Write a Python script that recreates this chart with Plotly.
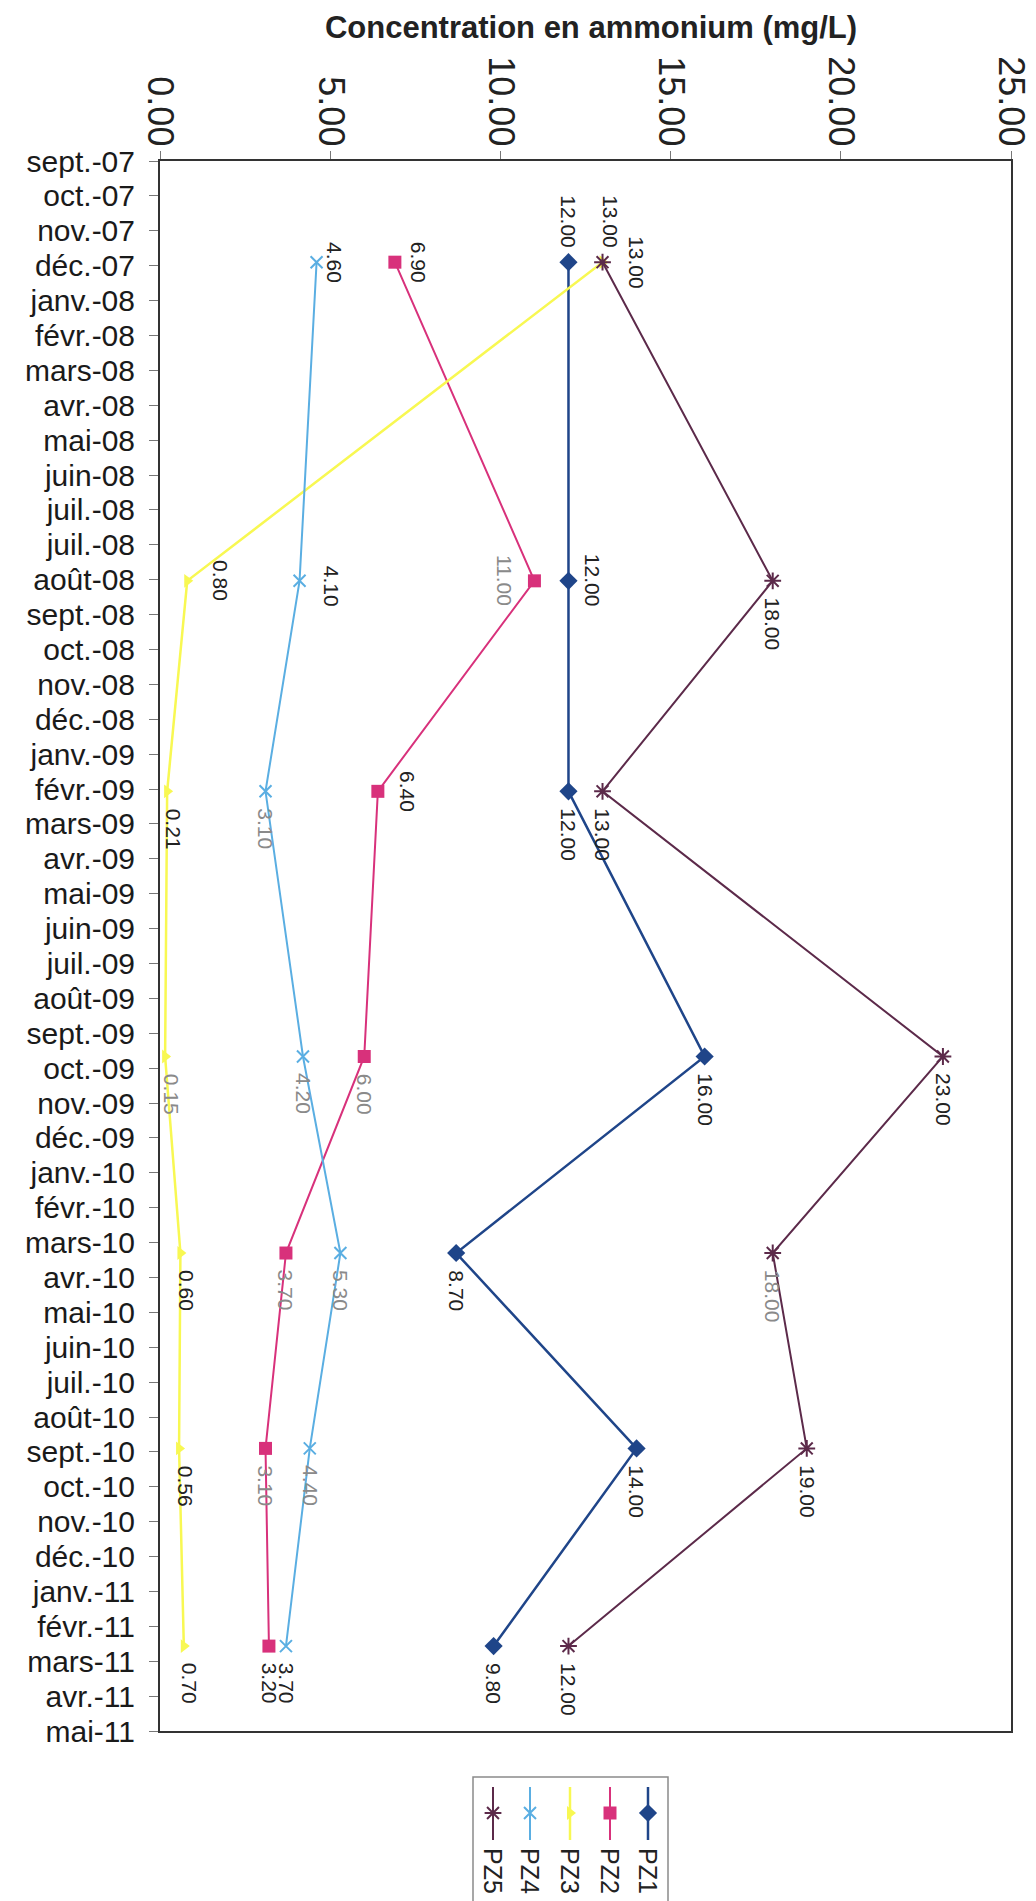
import pandas as pd
import plotly.graph_objects as go

# Ammonium concentration (mg/L) measured in piezometers PZ1 to PZ5
sample_dates = ["2007-12-01", "2008-08-31", "2009-02-28", "2009-10-14",
                "2010-04-01", "2010-09-16", "2011-03-05"]
pz1 = [12.00, 12.00, 12.00, 16.00, 8.70, 14.00, 9.80]
pz2 = [6.90, 11.00, 6.40, 6.00, 3.70, 3.10, 3.20]
pz3 = [13.00, 0.80, 0.21, 0.15, 0.60, 0.56, 0.70]
pz4 = [4.60, 4.10, 3.10, 4.20, 5.30, 4.40, 3.70]
pz5 = [13.00, 18.00, 13.00, 23.00, 18.00, 19.00, 12.00]
series_names = ["PZ1", "PZ2", "PZ3", "PZ4", "PZ5"]

# Time axis: one labelled tick every 30 days
axis_start = "2007-09-05"
axis_step_days = 30
month_labels = [
    "sept.-07", "oct.-07", "nov.-07", "déc.-07", "janv.-08", "févr.-08",
    "mars-08", "avr.-08", "mai-08", "juin-08", "juil.-08", "juil.-08",
    "août-08", "sept.-08", "oct.-08", "nov.-08", "déc.-08", "janv.-09",
    "févr.-09", "mars-09", "avr.-09", "mai-09", "juin-09", "juil.-09",
    "août-09", "sept.-09", "oct.-09", "nov.-09", "déc.-09", "janv.-10",
    "févr.-10", "mars-10", "avr.-10", "mai-10", "juin-10", "juil.-10",
    "août-10", "sept.-10", "oct.-10", "nov.-10", "déc.-10", "janv.-11",
    "févr.-11", "mars-11", "avr.-11", "mai-11",
]
value_ticks = [0, 5, 10, 15, 20, 25]

series_values = dict(zip(series_names, [pz1, pz2, pz3, pz4, pz5]))

FONT = "Liberation Sans, Arial, sans-serif"
W, H = 1036, 1901

styles = {
    "PZ1": dict(color="#1f4589", symbol="diamond", size=14, width=2.5, open=False),
    "PZ2": dict(color="#d8317b", symbol="square", size=13, width=2, open=False),
    "PZ3": dict(color="#f8f852", symbol="triangle-right", size=12, width=2.5, open=False),
    "PZ4": dict(color="#5aaee2", symbol="x-thin-open", size=12, width=2, open=True),
    "PZ5": dict(color="#5c2a4a", symbol="asterisk-open", size=14, width=2, open=True),
}

# value-label placement per point: (side, x shift px, y shift px)
B = ("b", 0, -15)
B3 = ("b", 6, -15)
label_place = {
    "PZ1": [("a", 0, 12), ("r", 10, 0), B, B, B, B, B],
    "PZ2": [("r", 10, 0), ("l", -17, 0), ("r", 16, 0), B, B, B, B],
    "PZ3": [("a", 8, 12), ("r", 19, 0), B3, B3, B3, B3, B3],
    "PZ4": [("r", 5, 0), ("r", 18, -5), B, B, B, B, B],
    "PZ5": [("r", 21, 0), B, B, B, B, B, B],
}
label_faded = {
    "PZ1": [], "PZ2": [1, 3, 4, 5], "PZ3": [3], "PZ4": [2, 3, 4, 5], "PZ5": [4],
}

tick_dates = pd.date_range(axis_start, periods=len(month_labels),
                           freq=f"{axis_step_days}D")

fig = go.Figure()

for name in series_names:
    st = styles[name]
    marker = dict(symbol=st["symbol"], size=st["size"], color=st["color"],
                  line=dict(color=st["color"], width=2 if st["open"] else 0))
    fig.add_trace(go.Scatter(
        x=series_values[name], y=sample_dates, mode="lines+markers",
        name=name, showlegend=False,
        line=dict(color=st["color"], width=st["width"]),
        marker=marker, xaxis="x", yaxis="y", hoverinfo="skip",
    ))

annotations = []
anchors = {"b": ("center", "top"), "a": ("center", "bottom"),
           "r": ("left", "middle"), "l": ("right", "middle")}
for name in series_names:
    for i, (v, d) in enumerate(zip(series_values[name], sample_dates)):
        side, dx, dy = label_place[name][i]
        xa, ya = anchors[side]
        annotations.append(dict(
            x=v, y=d, xref="x", yref="y", text=f"{v:.2f}", showarrow=False,
            textangle=90, xanchor=xa, yanchor=ya, xshift=dx, yshift=dy,
            font=dict(family=FONT, size=21,
                      color="#8a8a8a" if i in label_faded[name] else "#222222"),
        ))

# Legend drawn as a rotated key in the bottom margin
legend_x = {"PZ5": 493, "PZ4": 530, "PZ3": 570, "PZ2": 610, "PZ1": 648}
for name in series_names:
    st = styles[name]
    lx = legend_x[name]
    fig.add_trace(go.Scatter(
        x=[lx, lx], y=[1787, 1840], mode="lines", showlegend=False,
        line=dict(color=st["color"], width=st["width"]),
        xaxis="x2", yaxis="y2", hoverinfo="skip",
    ))
    fig.add_trace(go.Scatter(
        x=[lx], y=[1813], mode="markers", showlegend=False,
        marker=dict(symbol=st["symbol"], size=st["size"], color=st["color"],
                    line=dict(color=st["color"], width=2 if st["open"] else 0)),
        xaxis="x2", yaxis="y2", hoverinfo="skip",
    ))
    annotations.append(dict(
        x=lx, y=1846, xref="x2", yref="y2", text=name, showarrow=False,
        textangle=90, xanchor="center", yanchor="top",
        font=dict(family=FONT, size=25, color="#222222"),
    ))

shapes = [dict(type="rect", xref="x2", yref="y2", x0=473, x1=668, y0=1777, y1=1910,
               line=dict(color="#8a8a8a", width=1.5), fillcolor="rgba(0,0,0,0)")]

plot_left, plot_right, plot_top, plot_bottom = 160, 1011, 161, 1731

fig.update_layout(
    width=W, height=H,
    margin=dict(l=0, r=0, t=0, b=0, pad=0),
    paper_bgcolor="white", plot_bgcolor="white",
    font=dict(family=FONT, color="#222222"),
    title=dict(text="Concentration en ammonium (mg/L)", xref="container",
               yref="container", x=591 / W, y=1 - 27 / H,
               xanchor="center", yanchor="middle",
               font=dict(family=FONT, size=31, color="#222222", weight="bold")),
    xaxis=dict(
        domain=[plot_left / W, plot_right / W], range=[0, 25], side="top",
        tickmode="array", tickvals=value_ticks,
        ticktext=[f"{v:.2f}" for v in value_ticks], tickangle=90,
        ticks="outside", ticklen=8, tickcolor="#777777", tickwidth=1,
        ticklabelstandoff=-8,
        tickfont=dict(family=FONT, size=36, color="#222222"),
        showline=True, linecolor="#333333", linewidth=2, mirror=True,
        showgrid=False, zeroline=False, automargin=False, anchor="y",
    ),
    yaxis=dict(
        domain=[(H - plot_bottom) / H, (H - plot_top) / H], type="date",
        range=[tick_dates[-1], tick_dates[0]],
        tickmode="array", tickvals=list(tick_dates), ticktext=month_labels,
        ticks="outside", ticklen=9, tickcolor="#777777", tickwidth=1,
        ticklabelstandoff=8,
        tickfont=dict(family=FONT, size=30, color="#1a1a1a"),
        showline=True, linecolor="#333333", linewidth=2, mirror=True,
        showgrid=False, zeroline=False, automargin=False, anchor="x",
    ),
    xaxis2=dict(domain=[440 / W, 700 / W], range=[440, 700], visible=False,
                anchor="y2", fixedrange=True),
    yaxis2=dict(domain=[0, 131 / H], range=[1901, 1770], visible=False,
                anchor="x2", fixedrange=True),
    annotations=annotations,
    shapes=shapes,
    showlegend=False,
    hovermode=False,
)

fig.write_html("out.html")
